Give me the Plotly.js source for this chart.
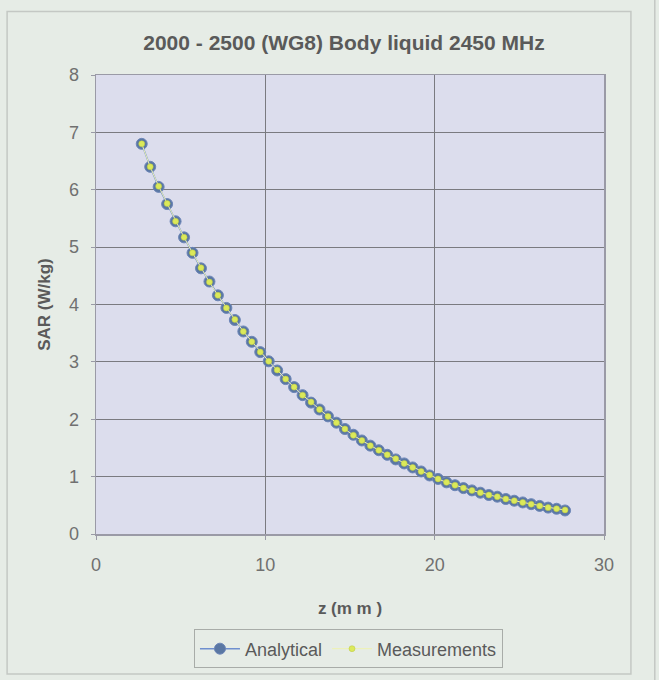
<!DOCTYPE html>
<html>
<head>
<meta charset="utf-8">
<script src="https://cdn.plot.ly/plotly-3.0.1.min.js"></script>
<style>
html,body{margin:0;padding:0;background:#e6ece6;}
#chart{width:659px;height:680px;}
</style>
</head>
<body>
<div id="chart"></div>
<script>
// Depth z (mm)
const zValues = [2.7,3.2,3.7,4.2,4.7,5.2,5.7,6.2,6.7,7.2,7.7,8.2,8.7,9.2,9.7,10.2,10.7,11.2,11.7,12.2,12.7,13.2,13.7,14.2,14.7,15.2,15.7,16.2,16.7,17.2,17.7,18.2,18.7,19.2,19.7,20.2,20.7,21.2,21.7,22.2,22.7,23.2,23.7,24.2,24.7,25.2,25.7,26.2,26.7,27.2,27.7];
// Analytical SAR (W/kg)
const sarAnalytical = [6.80,6.40,6.05,5.75,5.45,5.17,4.90,4.63,4.40,4.16,3.94,3.73,3.53,3.35,3.17,3.01,2.85,2.70,2.56,2.42,2.29,2.17,2.05,1.94,1.83,1.73,1.63,1.54,1.46,1.38,1.30,1.23,1.16,1.09,1.02,0.96,0.90,0.85,0.80,0.76,0.72,0.68,0.65,0.61,0.58,0.55,0.52,0.49,0.46,0.44,0.41];
// Measured SAR (W/kg)
const sarMeasured = [6.80,6.40,6.06,5.76,5.45,5.17,4.90,4.64,4.39,4.16,3.94,3.74,3.53,3.35,3.17,3.01,2.86,2.70,2.56,2.42,2.30,2.17,2.05,1.94,1.83,1.72,1.63,1.54,1.46,1.38,1.31,1.23,1.16,1.09,1.03,0.96,0.90,0.85,0.80,0.76,0.72,0.68,0.65,0.61,0.58,0.55,0.52,0.49,0.46,0.44,0.42];
const xTicks = [0,10,20,30];
const yTicks = [0,1,2,3,4,5,6,7,8];

const data = [
  {
    x: zValues, y: sarAnalytical, name: 'Analytical', type: 'scatter', mode: 'lines+markers',
    line: {color: '#6f8fcf', width: 1.5},
    marker: {symbol: 'circle', size: 11, color: '#5a77a3', line: {color: '#6d86b8', width: 1}}
  },
  {
    x: zValues, y: sarMeasured, name: 'Measurements', type: 'scatter', mode: 'lines+markers',
    line: {color: '#eef2b0', width: 1},
    marker: {symbol: 'circle', size: 6, color: '#dbe95a', line: {color: '#b8c640', width: 0.5}}
  }
];

const fontFam = 'Liberation Sans, Arial, sans-serif';
const layout = {
  width: 659, height: 680,
  paper_bgcolor: 'rgba(0,0,0,0)',
  plot_bgcolor: '#dcdded',
  margin: {l: 96, r: 55, t: 75, b: 143},
  font: {family: fontFam, color: '#6a6a6a', size: 14},
  title: {text: '<b>2000 - 2500 (WG8) Body liquid 2450 MHz</b>', x: 0.522, xanchor: 'center', y: 0.937, yanchor: 'middle',
          font: {family: fontFam, size: 21, color: '#5a5a5a'}},
  xaxis: {
    range: [0, 30], tickvals: xTicks, ticktext: xTicks.map(String),
    showgrid: true, gridcolor: '#7a7a80', gridwidth: 1,
    showline: true, linecolor: '#9a9aa6', mirror: true, linewidth: 1.5,
    zeroline: false, ticks: 'outside', ticklen: 4, tickcolor: '#9a9aa6',
    ticklabelstandoff: 10,
    tickfont: {size: 18, color: '#707070'},
    title: {text: '<b>z (m m )</b>', font: {size: 17, color: '#5a5a5a'}, standoff: 28}
  },
  yaxis: {
    range: [0, 8], tickvals: yTicks, ticktext: yTicks.map(String),
    showgrid: true, gridcolor: '#7a7a80', gridwidth: 1,
    showline: true, linecolor: '#9a9aa6', mirror: true, linewidth: 1.5,
    zeroline: false, ticks: 'outside', ticklen: 4, tickcolor: '#9a9aa6',
    ticklabelstandoff: 8,
    tickfont: {size: 18, color: '#707070'},
    title: {text: '<b>SAR (W/kg)</b>', font: {size: 17, color: '#5a5a5a'}, standoff: 14}
  },
  showlegend: true,
  legend: {
    orientation: 'h', x: 0.497, xanchor: 'center', y: -0.208, yanchor: 'top',
    bgcolor: '#e6ece6', bordercolor: '#a8aca8', borderwidth: 1,
    font: {size: 18, color: '#5a5a5a'}, itemwidth: 40
  },
  shapes: [
    {type: 'rect', xref: 'paper', yref: 'paper', x0: -0.175, x1: 1.053, y0: -0.305, y1: 1.1385,
     line: {color: '#c4c8c4', width: 1.5}, fillcolor: 'rgba(0,0,0,0)', layer: 'below'},
    {type: 'line', xref: 'paper', yref: 'paper', x0: 1.1, x1: 1.1, y0: -0.32, y1: 1.2,
     line: {color: '#c4c8c4', width: 1.5}}
  ]
};

Plotly.newPlot('chart', data, layout, {staticPlot: true, displayModeBar: false});
</script>
</body>
</html>
